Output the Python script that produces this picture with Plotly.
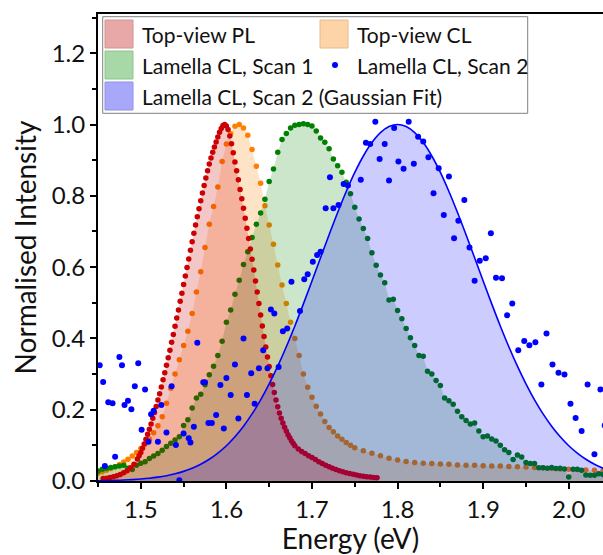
import plotly.graph_objects as go

# ---------------- data ----------------
# Top-view PL (red)
E_PL = [1.456,1.460,1.464,1.468,1.472,1.476,1.480,1.484,1.488,1.492,1.496,1.498,
        1.500,1.502,1.504,1.506,1.508,1.510,1.512,1.514,1.516,1.518,
        1.520,1.522,1.524,1.526,1.528,1.530,1.532,1.534,1.536,1.538,
        1.540,1.542,1.544,1.546,1.548,1.550,1.552,1.554,1.556,1.558,
        1.560,1.562,1.564,1.566,1.568,1.570,1.572,1.574,1.576,1.578,
        1.580,1.582,1.584,1.586,1.588,1.590,1.592,1.594,1.596,1.598,
        1.600,1.602,1.604,1.606,1.608,1.610,1.612,1.614,1.616,1.618,
        1.620,1.622,1.624,1.626,1.628,1.630,1.632,1.634,1.636,1.638,
        1.640,1.642,1.644,1.646,1.648,1.650,1.652,1.654,1.656,1.658,
        1.660,1.662,1.664,1.666,1.668,1.670,1.672,1.674,1.676,1.678,
        1.680,1.684,1.688,1.692,1.696,1.700,1.704,1.708,1.712,1.716,
        1.720,1.724,1.728,1.732,1.736,1.740,1.744,1.748,1.752,1.756,
        1.760,1.764,1.768,1.772,1.776]
I_PL = [0.007,0.008,0.010,0.012,0.015,0.018,0.023,0.029,0.037,0.047,0.062,0.071,
        0.080,0.092,0.104,0.117,0.131,0.145,0.160,0.176,0.192,0.209,
        0.227,0.245,0.264,0.284,0.304,0.325,0.346,0.367,0.389,0.411,
        0.434,0.457,0.480,0.504,0.527,0.551,0.575,0.599,0.623,0.647,
        0.671,0.695,0.718,0.741,0.764,0.786,0.808,0.829,0.850,0.870,
        0.889,0.906,0.922,0.937,0.951,0.965,0.978,0.989,0.997,1.000,
        0.996,0.986,0.968,0.946,0.921,0.895,0.870,0.845,0.818,0.792,
        0.765,0.737,0.709,0.680,0.651,0.622,0.592,0.561,0.530,0.498,
        0.466,0.435,0.405,0.376,0.348,0.321,0.295,0.271,0.248,0.227,
        0.208,0.191,0.176,0.163,0.151,0.140,0.130,0.121,0.113,0.106,
        0.099,0.090,0.083,0.077,0.071,0.066,0.060,0.054,0.049,0.044,
        0.040,0.036,0.032,0.029,0.026,0.023,0.021,0.019,0.017,0.015,
        0.013,0.012,0.011,0.010,0.009]

# Top-view CL (orange)
E_CL = [1.450,1.455,1.460,1.465,1.470,1.475,1.480,1.485,1.490,1.495,
        1.500,1.505,1.510,1.515,1.520,1.525,1.530,1.535,1.540,1.545,
        1.550,1.555,1.560,1.565,1.570,1.575,1.580,1.585,1.590,1.595,
        1.600,1.605,1.610,1.615,1.620,1.625,1.630,1.635,1.640,1.645,
        1.650,1.655,1.660,1.665,1.670,1.675,1.680,1.685,1.690,1.695,
        1.700,1.705,1.710,1.715,1.720,1.725,1.730,1.735,1.740,1.745,
        1.750,1.760,1.770,1.780,1.790,1.800,1.810,1.820,1.830,1.840,
        1.850,1.860,1.870,1.880,1.890,1.900,1.910,1.920,1.930,1.940,
        1.950,1.960,1.970,1.980,1.990,2.000,2.010,2.020,2.030,2.040]
I_CL = [0.022,0.026,0.030,0.035,0.040,0.046,0.053,0.061,0.070,0.080,
        0.091,0.104,0.118,0.135,0.155,0.180,0.218,0.260,0.300,0.340,
        0.380,0.420,0.470,0.530,0.587,0.655,0.720,0.770,0.825,0.896,
        0.945,0.975,0.995,1.000,0.990,0.970,0.930,0.883,0.835,0.772,
        0.718,0.664,0.606,0.550,0.498,0.445,0.400,0.352,0.300,0.263,
        0.235,0.210,0.188,0.167,0.150,0.138,0.126,0.117,0.108,0.100,
        0.093,0.085,0.078,0.071,0.064,0.059,0.055,0.052,0.050,0.049,
        0.048,0.047,0.045,0.044,0.044,0.043,0.042,0.042,0.041,0.040,
        0.039,0.038,0.037,0.035,0.034,0.033,0.032,0.031,0.030,0.029]

# Lamella CL, Scan 1 (green)
E_S1 = [1.450,1.455,1.460,1.465,1.470,1.475,1.480,1.485,1.490,1.495,
        1.500,1.505,1.510,1.515,1.520,1.525,1.530,1.535,1.540,1.545,
        1.550,1.555,1.560,1.565,1.570,1.575,1.580,1.585,1.590,1.595,
        1.600,1.605,1.610,1.615,1.620,1.625,1.630,1.635,1.640,1.645,
        1.650,1.655,1.660,1.665,1.670,1.675,1.680,1.685,1.690,1.695,
        1.700,1.705,1.710,1.715,1.720,1.725,1.730,1.735,1.740,1.745,
        1.750,1.755,1.760,1.765,1.770,1.775,1.780,1.785,1.790,1.795,
        1.800,1.805,1.810,1.815,1.820,1.825,1.830,1.835,1.840,1.845,
        1.850,1.855,1.860,1.865,1.870,1.875,1.880,1.885,1.890,1.895,
        1.900,1.905,1.910,1.915,1.920,1.925,1.930,1.935,1.940,1.945,
        1.950,1.955,1.960,1.965,1.970,1.975,1.980,1.985,1.990,1.995,
        2.000,2.005,2.010,2.015,2.020,2.025,2.030,2.035,2.040]
I_S1 = [0.028,0.033,0.036,0.038,0.040,0.042,0.044,0.036,0.032,0.044,
        0.050,0.054,0.063,0.070,0.077,0.086,0.097,0.106,0.115,0.124,
        0.156,0.172,0.205,0.233,0.243,0.270,0.298,0.322,0.352,0.392,
        0.445,0.480,0.524,0.563,0.607,0.643,0.683,0.720,0.752,0.790,
        0.840,0.875,0.922,0.958,0.975,0.990,0.998,1.000,1.002,1.000,
        0.996,0.982,0.962,0.950,0.932,0.903,0.884,0.866,0.838,0.806,
        0.768,0.735,0.708,0.680,0.640,0.605,0.578,0.556,0.508,0.510,
        0.478,0.455,0.428,0.402,0.380,0.352,0.350,0.308,0.300,0.282,
        0.268,0.233,0.225,0.215,0.196,0.180,0.170,0.160,0.163,0.140,
        0.124,0.126,0.118,0.112,0.100,0.088,0.080,0.060,0.073,0.067,
        0.052,0.049,0.049,0.037,0.037,0.036,0.038,0.035,0.036,0.034,
        0.011,0.033,0.033,0.030,0.017,0.016,0.016,0.020,0.018]

# Lamella CL, Scan 2 (blue, noisy)
E_S2 = [1.452,1.456,1.458,1.462,1.467,1.470,1.475,1.478,1.481,1.485,
        1.489,1.493,1.497,1.501,1.505,1.509,1.512,1.515,1.520,1.524,
        1.530,1.536,1.541,1.545,1.550,1.556,1.558,1.562,1.566,1.573,
        1.575,1.579,1.583,1.588,1.593,1.597,1.600,1.605,1.610,1.614,
        1.620,1.624,1.629,1.633,1.638,1.643,1.648,1.652,1.656,1.661,
        1.666,1.671,1.676,1.686,1.691,1.695,1.701,1.706,1.710,1.716,
        1.721,1.725,1.731,1.737,1.742,1.757,1.763,1.768,1.774,1.779,
        1.785,1.790,1.796,1.801,1.807,1.813,1.819,1.824,1.830,1.836,
        1.842,1.848,1.854,1.860,1.866,1.871,1.878,1.884,1.890,1.896,
        1.903,1.909,1.915,1.922,1.928,1.934,1.941,1.948,1.954,1.961,
        1.968,1.974,1.981,1.988,1.995,2.002,2.008,2.015,2.022,2.030,
        2.037,2.042]
I_S2 = [0.325,0.278,0.042,0.221,0.218,0.068,0.348,0.325,0.213,0.225,
        0.201,0.266,0.330,0.144,0.257,0.110,0.187,0.197,0.110,0.213,
        0.136,0.266,0.101,0.002,0.133,0.120,0.108,0.152,0.388,0.277,
        0.277,0.163,0.163,0.185,0.269,0.147,0.289,0.241,0.327,0.175,
        0.400,0.241,0.302,0.217,0.316,0.367,0.316,0.481,0.470,0.320,
        0.420,0.428,0.559,0.477,0.566,0.580,0.615,0.634,0.643,0.765,
        0.852,0.765,0.774,0.833,0.829,0.845,0.949,0.945,1.008,0.903,
        0.945,0.843,0.990,0.896,0.876,1.008,0.890,0.966,0.952,0.908,
        0.807,0.877,0.746,0.854,0.681,0.730,0.788,0.655,0.562,0.618,
        0.625,0.695,0.570,0.569,0.465,0.498,0.367,0.393,0.381,0.389,
        0.271,0.414,0.327,0.304,0.299,0.217,0.177,0.140,0.271,0.075,
        0.257,0.156]

# Lamella CL, Scan 2 (Gaussian Fit)
E_FIT = [1.45,1.46,1.47,1.48,1.49,1.50,1.51,1.52,1.53,1.54,
         1.55,1.56,1.57,1.58,1.59,1.60,1.61,1.62,1.63,1.64,
         1.65,1.66,1.67,1.68,1.69,1.70,1.71,1.72,1.73,1.74,
         1.75,1.76,1.77,1.78,1.79,1.80,1.81,1.82,1.83,1.84,
         1.85,1.86,1.87,1.88,1.89,1.90,1.91,1.92,1.93,1.94,
         1.95,1.96,1.97,1.98,1.99,2.00,2.01,2.02,2.03,2.04]
I_FIT = [0.0008,0.0013,0.0018,0.0027,0.0039,0.0055,0.0077,0.0108,0.0148,0.0201,
         0.0270,0.0358,0.0470,0.0609,0.0782,0.0990,0.1241,0.1537,0.1882,0.2277,
         0.2724,0.3220,0.3765,0.4350,0.4969,0.5610,0.6261,0.6908,0.7533,0.8121,
         0.8655,0.9117,0.9493,0.9771,0.9942,1.0000,0.9942,0.9771,0.9493,0.9117,
         0.8655,0.8121,0.7533,0.6908,0.6261,0.5610,0.4969,0.4350,0.3765,0.3220,
         0.2724,0.2277,0.1882,0.1537,0.1241,0.0990,0.0782,0.0609,0.0470,0.0358]

LEGEND_LABELS = ["Top-view PL", "Top-view CL", "Lamella CL, Scan 1",
                 "Lamella CL, Scan 2", "Lamella CL, Scan 2 (Gaussian Fit)"]
X_TICKS = [1.5, 1.6, 1.7, 1.8, 1.9, 2.0]
Y_TICKS = [0.0, 0.2, 0.4, 0.6, 0.8, 1.0, 1.2]

# ---------------- styles ----------------
FONT = "Lato"
C_RED, C_ORA, C_GRN, C_BLU = "#cc0000", "#ff7f00", "#008000", "#0000ff"
F_RED = "rgba(204,0,0,0.22)"
F_ORA = "rgba(255,127,0,0.22)"
F_GRN = "rgba(0,128,0,0.20)"
F_BLU = "rgba(0,0,255,0.20)"

fig = go.Figure()

fig.add_trace(go.Scatter(x=E_CL, y=I_CL, mode="none", fill="tozeroy",
                         fillcolor=F_ORA, showlegend=False, hoverinfo="skip"))
fig.add_trace(go.Scatter(x=E_CL, y=I_CL, mode="markers", name=LEGEND_LABELS[1],
                         marker=dict(color=C_ORA, size=5.5), showlegend=False))
fig.add_trace(go.Scatter(x=E_S1, y=I_S1, mode="none", fill="tozeroy",
                         fillcolor=F_GRN, showlegend=False, hoverinfo="skip"))
fig.add_trace(go.Scatter(x=E_S1, y=I_S1, mode="markers", name=LEGEND_LABELS[2],
                         marker=dict(color=C_GRN, size=5.5), showlegend=False))
fig.add_trace(go.Scatter(x=E_PL, y=I_PL, mode="none", fill="tozeroy",
                         fillcolor=F_RED, showlegend=False, hoverinfo="skip"))
fig.add_trace(go.Scatter(x=E_PL, y=I_PL, mode="markers", name=LEGEND_LABELS[0],
                         marker=dict(color=C_RED, size=5.5), showlegend=False))
fig.add_trace(go.Scatter(x=E_FIT, y=I_FIT, mode="lines", fill="tozeroy",
                         fillcolor=F_BLU, name=LEGEND_LABELS[4],
                         line=dict(color=C_BLU, width=1.6, shape="spline"),
                         showlegend=False))
fig.add_trace(go.Scatter(x=E_S2, y=I_S2, mode="markers", name=LEGEND_LABELS[3],
                         marker=dict(color=C_BLU, size=6), showlegend=False))

# ---------------- layout ----------------
L, T, B, W, H = 98, 14, 74, 603, 555
PW, PH = W - L, H - T - B


def px(x):
    return (x - L) / PW


def py(y):
    return (H - B - y) / PH


shapes = []
annotations = []
# legend frame
shapes.append(dict(type="rect", xref="paper", yref="paper",
                   x0=px(102.7), x1=px(527.7), y0=py(113.3), y1=py(16.7),
                   line=dict(color="#7f7f7f", width=1), fillcolor="white"))
sw = [("#e8a8a8", "#d49090", 105, 20, 0), ("#fdd4a8", "#e8b890", 320, 20, 1),
      ("#a8d8a8", "#90c490", 105, 51, 2), (None, None, 320, 51, 3),
      ("#a8a8fa", "#9090e6", 105, 82, 4)]
for fill, edge, x0, y0, k in sw:
    if fill:
        shapes.append(dict(type="rect", xref="paper", yref="paper",
                           x0=px(x0), x1=px(x0 + 28), y0=py(y0 + 28), y1=py(y0),
                           line=dict(color=edge, width=1), fillcolor=fill))
    else:
        shapes.append(dict(type="circle", xref="paper", yref="paper",
                           x0=px(332), x1=px(338), y0=py(y0 + 17), y1=py(y0 + 11),
                           line=dict(color=C_BLU, width=0), fillcolor=C_BLU))
    annotations.append(dict(text=LEGEND_LABELS[k], xref="paper", yref="paper",
                            x=px(x0 + 34.5), y=py(y0 + 14), xanchor="left",
                            yanchor="middle", showarrow=False,
                            font=dict(family=FONT, size=21, color="#111")))

axis_common = dict(showline=True, linewidth=2, linecolor="#000", ticks="outside",
                   ticklen=6, tickwidth=1.5, tickcolor="#000", showgrid=False,
                   zeroline=False, tickfont=dict(family=FONT, size=24, color="#111"))

fig.update_layout(
    width=W, height=H, margin=dict(l=L, r=0, t=T, b=B, pad=0),
    paper_bgcolor="white", plot_bgcolor="white", showlegend=False,
    shapes=shapes, annotations=annotations,
    xaxis=dict(range=[1.45, 2.04], tickvals=X_TICKS, ticktext=[f"{v:.1f}" for v in X_TICKS],
               mirror=True,
               minor=dict(dtick=0.05, tick0=1.45, ticks="outside", ticklen=4, tickwidth=1.5,
                          tickcolor="#000"),
               title=dict(text="Energy (eV)", font=dict(family=FONT, size=28, color="#111"),
                          standoff=10),
               **axis_common),
    yaxis=dict(range=[0, 1.31], tickvals=Y_TICKS, ticktext=[f"{v:.1f}" for v in Y_TICKS],
               minor=dict(dtick=0.1, tick0=0, ticks="outside", ticklen=4, tickwidth=1.5,
                          tickcolor="#000"),
               title=dict(text="Normalised Intensity", font=dict(family=FONT, size=28, color="#111"),
                          standoff=7),
               **axis_common),
)

fig.write_html("out.html")
